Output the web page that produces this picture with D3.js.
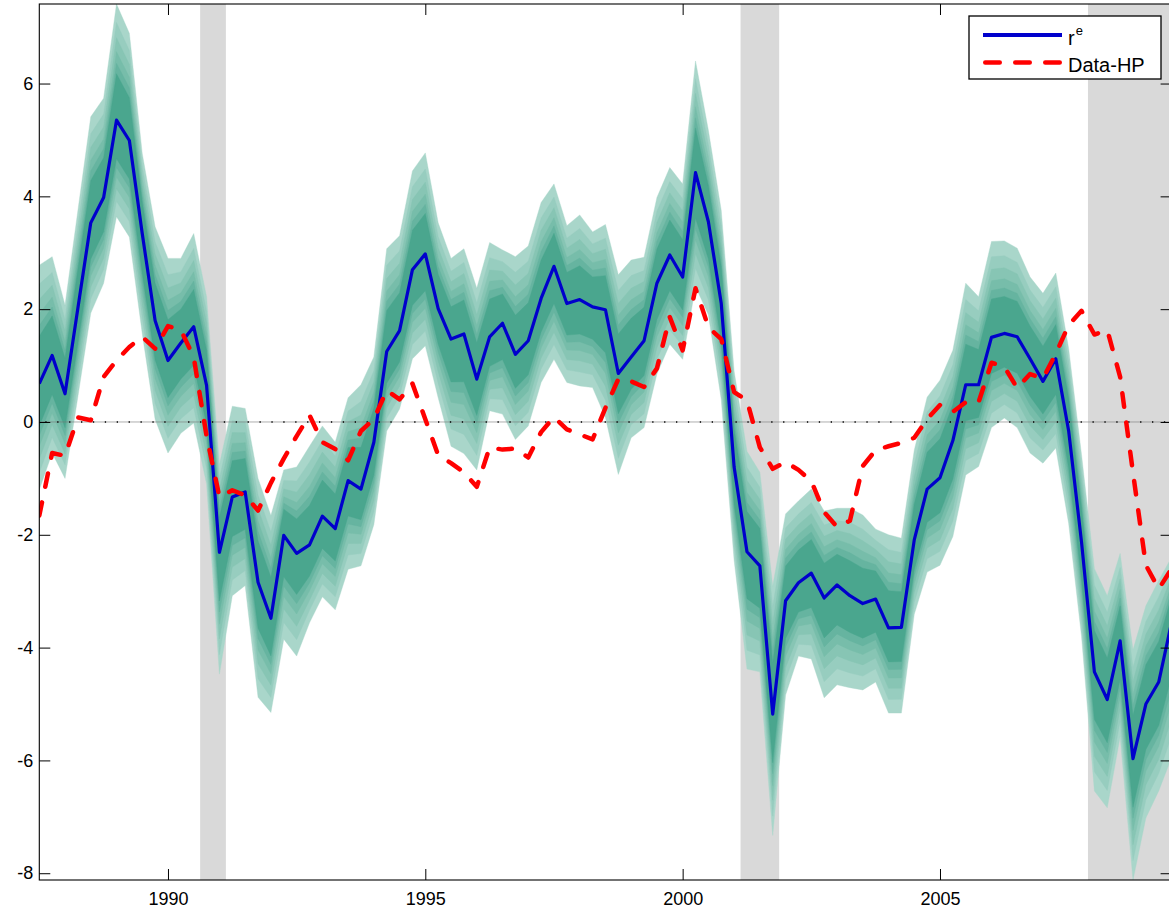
<!DOCTYPE html>
<html>
<head>
<meta charset="utf-8">
<script src="https://cdnjs.cloudflare.com/ajax/libs/d3/7.8.5/d3.min.js"></script>
<style>
  body { margin: 0; background: #fff; }
  svg { display: block; }
  text { font-family: "Liberation Sans", Arial, sans-serif; fill: #000; }
</style>
</head>
<body>
<div id="chart"></div>
<script>
// quarterly sample, first quarter at 1987.5
const startDate = 1987.5;
const quarterStep = 0.25;

// r^e (posterior median)
const reSeries = [
  0.68, 1.18, 0.50, 2.02, 3.53, 3.98, 5.35, 4.99, 3.34, 1.80,
  1.09, 1.40, 1.69, 0.65, -2.31, -1.33, -1.24, -2.84, -3.48, -2.01,
  -2.33, -2.18, -1.67, -1.89, -1.04, -1.19, -0.36, 1.25, 1.62, 2.70,
  2.98, 2.01, 1.47, 1.56, 0.76, 1.51, 1.75, 1.20, 1.44, 2.19,
  2.76, 2.10, 2.17, 2.04, 1.99, 0.86, 1.15, 1.44, 2.46, 2.96,
  2.57, 4.42, 3.55, 2.10, -0.80, -2.30, -2.55, -5.18, -3.17, -2.85,
  -2.68, -3.12, -2.89, -3.08, -3.22, -3.14, -3.65, -3.64, -2.09, -1.19,
  -0.99, -0.33, 0.66, 0.66, 1.50, 1.57, 1.51, 1.12, 0.72, 1.12,
  -0.16, -2.13, -4.43, -4.92, -3.88, -5.97, -5.00, -4.61, -3.55
];

// Data-HP
const dataHP = [
  -1.66, -0.55, -0.60, 0.08, 0.03, 0.80, 1.09, 1.33, 1.51, 1.30,
  1.70, 1.63, 1.15, -0.25, -1.33, -1.21, -1.30, -1.57, -1.08, -0.65,
  -0.25, 0.12, -0.36, -0.48, -0.68, -0.16, 0.05, 0.56, 0.40, 0.68,
  0.05, -0.59, -0.73, -0.89, -1.15, -0.45, -0.49, -0.47, -0.63, -0.18,
  0.09, -0.13, -0.22, -0.31, 0.25, 0.76, 0.72, 0.62, 0.95, 1.86,
  1.27, 2.37, 1.68, 1.47, 0.53, 0.38, -0.45, -0.83, -0.71, -0.85,
  -1.05, -1.60, -1.86, -1.75, -0.78, -0.50, -0.43, -0.37, -0.28, 0.05,
  0.30, 0.18, 0.35, 0.35, 1.05, 0.98, 0.60, 0.85, 0.77, 1.21,
  1.72, 1.97, 1.55, 1.63, 0.80, -0.90, -2.54, -2.96, -2.60
];

// outer edges of the fan
const bandUpper = [
  2.78, 2.93, 2.07, 3.75, 5.41, 5.74, 7.41, 6.89, 4.76, 3.46,
  2.90, 2.90, 3.34, 2.22, -0.75, 0.28, 0.24, -1.00, -1.66, -0.85,
  -0.80, -0.43, -0.07, -0.36, 0.43, 0.66, 1.15, 3.07, 3.30, 4.45,
  4.77, 3.53, 2.90, 3.07, 2.37, 3.18, 3.05, 2.93, 3.12, 3.89,
  4.22, 3.48, 3.67, 3.37, 3.50, 2.61, 2.87, 2.92, 3.98, 4.51,
  4.22, 6.40, 5.17, 3.75, 0.90, -0.52, -0.89, -2.91, -1.63, -1.40,
  -1.19, -1.58, -1.53, -1.53, -1.65, -1.90, -2.00, -2.06, -0.50, 0.44,
  0.74, 1.27, 2.46, 2.22, 3.20, 3.21, 3.08, 2.57, 2.28, 2.64,
  1.30, -0.58, -2.60, -3.08, -2.33, -4.04, -3.26, -2.81, -2.40
];
const bandLower = [
  -1.20, -0.55, -1.00, 0.45, 1.93, 2.46, 3.64, 3.28, 1.57, 0.05,
  -0.55, -0.20, -0.02, -1.10, -4.47, -3.08, -2.90, -4.88, -5.15, -3.85,
  -4.15, -3.56, -3.10, -3.33, -2.61, -2.55, -1.82, -0.16, 0.23, 1.12,
  1.35, 0.43, -0.43, -0.56, -0.85, 0.20, 0.14, -0.31, -0.07, 0.70,
  1.11, 0.70, 0.64, 0.61, 0.08, -0.93, -0.28, -0.10, 0.85, 1.38,
  1.11, 2.40, 1.90, 0.40, -2.45, -4.38, -4.43, -7.33, -4.84, -4.15,
  -4.20, -4.89, -4.66, -4.71, -4.75, -4.61, -5.16, -5.16, -3.41, -2.66,
  -2.54, -2.03, -0.94, -0.79, -0.10, 0.07, -0.10, -0.55, -0.73, -0.46,
  -1.80, -3.80, -6.54, -6.84, -5.58, -8.12, -7.02, -6.54, -5.95
];

// share of the outer width covered by each shade, outermost first
const bandLevels = [1.0, 0.84, 0.71, 0.59, 0.49, 0.40];
const bandColors = ['#a9d6ca', '#97cdbf', '#87c5b4', '#77bdaa', '#66b4a0', '#4aa68e'];

// NBER recessions
const recessions = [[1990.625, 1991.125], [2001.125, 2001.875], [2007.875, 2009.5]];

const xTicks = [1990, 1995, 2000, 2005];
const yTicks = [-8, -6, -4, -2, 0, 2, 4, 6];

const legendItems = [
  { label: 'r', sup: 'e', color: '#0000cc', dash: null },
  { label: 'Data-HP', sup: null, color: '#ff0000', dash: '14.5,15.5' }
];

// ─────────────────────────────────────────
const W = 1169, H = 911;
const plot = { left: 39.3, right: 1171.6, top: 4, bottom: 880 };

const rows = reSeries.map((v, i) => ({
  date: startDate + i * quarterStep,
  re: v,
  hp: dataHP[i],
  up: bandUpper[i],
  lo: bandLower[i]
}));

const x = d3.scaleLinear()
  .domain([startDate, 2009.5])
  .range([plot.left, plot.right]);

// tight limits, as in the original
const y = d3.scaleLinear()
  .domain([d3.min(bandLower), d3.max(bandUpper)])
  .range([plot.bottom, plot.top]);

// plain hyphen for negatives, like the original
const fmt = d => (d < 0 ? '-' + Math.abs(d) : String(d));

const svg = d3.select('#chart')
  .append('svg')
  .attr('width', W)
  .attr('height', H)
  .style('overflow', 'hidden');

svg.append('rect').attr('width', W).attr('height', H).attr('fill', '#fff');

svg.append('clipPath').attr('id', 'plotClip')
  .append('rect')
  .attr('x', plot.left).attr('y', plot.top)
  .attr('width', plot.right - plot.left)
  .attr('height', plot.bottom - plot.top);

const g = svg.append('g').attr('clip-path', 'url(#plotClip)');

// recession shading
g.selectAll('.recession')
  .data(recessions)
  .enter()
  .append('rect')
  .attr('class', 'recession')
  .attr('x', d => x(d[0]))
  .attr('width', d => x(d[1]) - x(d[0]))
  .attr('y', plot.top)
  .attr('height', plot.bottom - plot.top)
  .attr('fill', '#d9d9d9');

// fan
bandLevels.forEach((f, k) => {
  const area = d3.area()
    .x(d => x(d.date))
    .y0(d => y(d.re - f * (d.re - d.lo)))
    .y1(d => y(d.re + f * (d.up - d.re)));
  g.append('path')
    .datum(rows)
    .attr('d', area)
    .attr('fill', bandColors[k])
    .attr('stroke', bandColors[k])
    .attr('stroke-width', 0.4);
});

// zero line
g.append('line')
  .attr('x1', plot.left).attr('x2', plot.right)
  .attr('y1', y(0)).attr('y2', y(0))
  .attr('stroke', '#777')
  .attr('stroke-width', 0.6);
g.append('line')
  .attr('x1', plot.left + 6).attr('x2', plot.right)
  .attr('y1', y(0)).attr('y2', y(0))
  .attr('stroke', '#000')
  .attr('stroke-width', 1.4)
  .attr('stroke-dasharray', '1.3,10.6');

// series
const reLine = d3.line().x(d => x(d.date)).y(d => y(d.re));
const hpLine = d3.line().x(d => x(d.date)).y(d => y(d.hp));

g.append('path')
  .datum(rows)
  .attr('d', reLine)
  .attr('fill', 'none')
  .attr('stroke', legendItems[0].color)
  .attr('stroke-width', 3.2)
  .attr('stroke-linejoin', 'round');

g.append('path')
  .datum(rows)
  .attr('d', hpLine)
  .attr('fill', 'none')
  .attr('stroke', legendItems[1].color)
  .attr('stroke-width', 4.5)
  .attr('stroke-linecap', 'round')
  .attr('stroke-linejoin', 'round')
  .attr('stroke-dasharray', '13.5,16');

// axes
const yAxis = d3.axisLeft(y).tickValues(yTicks).tickSize(-11).tickSizeOuter(0)
  .tickPadding(6).tickFormat(fmt);
const xAxis = d3.axisBottom(x).tickValues(xTicks).tickSize(-11).tickSizeOuter(0)
  .tickPadding(12).tickFormat(fmt);
const xTop = d3.axisTop(x).tickValues(xTicks).tickSize(-11).tickSizeOuter(0).tickFormat('');
const yRight = d3.axisRight(y).tickValues(yTicks).tickSize(-11).tickSizeOuter(0).tickFormat('');

function styleAxis(sel) {
  sel.select('.domain').remove();
  sel.selectAll('.tick line').attr('stroke', '#000').attr('stroke-width', 1);
  sel.selectAll('.tick text')
    .attr('font-size', '18px')
    .attr('font-family', '"Liberation Sans", Arial, sans-serif')
    .attr('fill', '#000');
}

svg.append('g').attr('transform', `translate(${plot.left},0)`).call(yAxis).call(styleAxis);
svg.append('g').attr('transform', `translate(0,${plot.bottom})`).call(xAxis).call(styleAxis);
svg.append('g').attr('transform', `translate(0,${plot.top})`).call(xTop).call(styleAxis);
svg.append('g').attr('transform', `translate(${plot.right},0)`).call(yRight).call(styleAxis);

// frame
svg.append('rect')
  .attr('x', plot.left).attr('y', plot.top)
  .attr('width', plot.right - plot.left)
  .attr('height', plot.bottom - plot.top)
  .attr('fill', 'none')
  .attr('stroke', '#000')
  .attr('stroke-width', 1.1);

// legend
const lg = svg.append('g').attr('transform', 'translate(969,16)');
lg.append('rect')
  .attr('width', 192).attr('height', 63)
  .attr('fill', '#fff')
  .attr('stroke', '#000')
  .attr('stroke-width', 1.3);

legendItems.forEach((it, i) => {
  const yy = 19 + i * 27.5;
  const line = lg.append('line')
    .attr('y1', yy).attr('y2', yy)
    .attr('stroke', it.color)
    .attr('stroke-width', it.dash ? 4.5 : 4);
  if (it.dash) {
    line.attr('x1', 16.25).attr('x2', 90.75)
      .attr('stroke-dasharray', it.dash)
      .attr('stroke-linecap', 'round');
  } else {
    line.attr('x1', 14).attr('x2', 93);
  }
  const t = lg.append('text')
    .attr('x', 99)
    .attr('y', it.sup ? yy + 10 : yy + 9)
    .attr('font-size', '20px')
    .text(it.label);
  if (it.sup) {
    t.append('tspan')
      .attr('font-size', '13px')
      .attr('dy', -10)
      .attr('dx', 1)
      .text(it.sup);
  }
});
</script>
</body>
</html>
